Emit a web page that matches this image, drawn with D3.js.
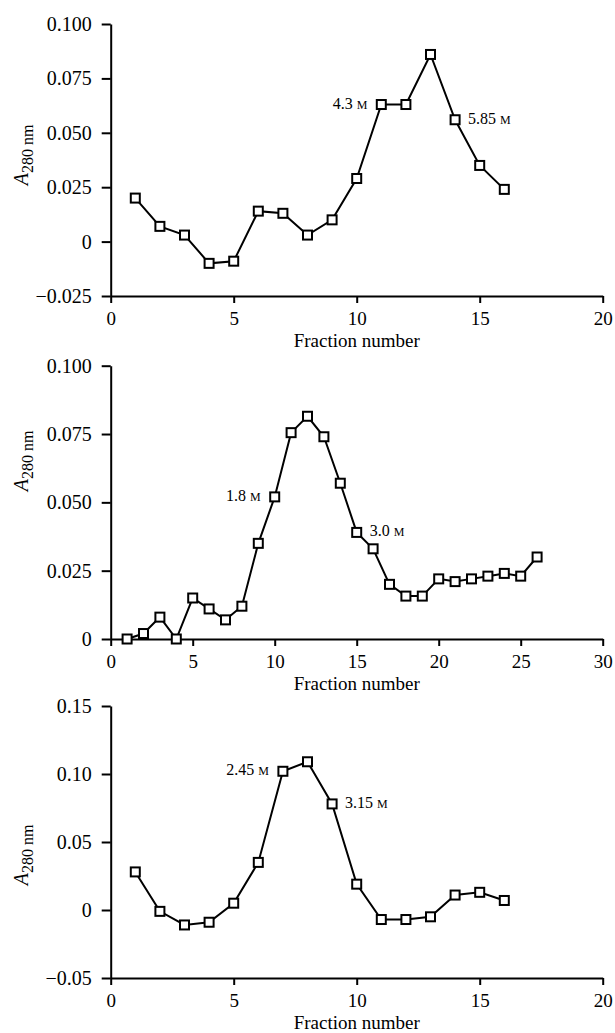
<!DOCTYPE html>
<html>
<meta charset='utf-8'>
<head>
<script src='https://d3js.org/d3.v7.min.js'></script>
<style>
body { margin: 0; background: #fff; }
.axis path, .axis line { stroke: #000; stroke-width: 2; }
.axis text { font-size: 20px; }
.xaxis text { font-size: 19px; }
</style>
</head>
<body>
<div id='chart'></div>
<script>
// panel 1
var frac1 = d3.range(1, 17)
var abs1 = [0.020, 0.007, 0.003, -0.010, -0.009, 0.014, 0.013, 0.003, 0.010, 0.029, 0.063, 0.063, 0.086, 0.056, 0.035, 0.024]
var yTicks1 = [-0.025, 0, 0.025, 0.050, 0.075, 0.100]
var yLabels1 = ['\u22120.025', '0', '0.025', '0.050', '0.075', '0.100']
var notes1 = [{f: 11, text: '4.3 ', side: 'left'}, {f: 14, text: '5.85 ', side: 'right'}]

// panel 2
var frac2 = d3.range(1, 27)
var abs2 = [0, 0.002, 0.008, 0, 0.015, 0.011, 0.007, 0.012, 0.035, 0.052, 0.0755, 0.0815, 0.074, 0.057, 0.039, 0.033,
            0.020, 0.0157, 0.0157, 0.022, 0.021, 0.022, 0.023, 0.024, 0.023, 0.030]
var yTicks2 = [0, 0.025, 0.050, 0.075, 0.100]
var yLabels2 = ['0', '0.025', '0.050', '0.075', '0.100']
var notes2 = [{f: 10, text: '1.8 ', side: 'left'}, {f: 15, text: '3.0 ', side: 'right'}]

// panel 3
var frac3 = d3.range(1, 17)
var abs3 = [0.028, -0.001, -0.011, -0.009, 0.005, 0.035, 0.102, 0.109, 0.078, 0.019, -0.007, -0.007, -0.005, 0.011, 0.013, 0.007]
var yTicks3 = [-0.05, 0, 0.05, 0.10, 0.15]
var yLabels3 = ['\u22120.05', '0', '0.05', '0.10', '0.15']
var notes3 = [{f: 7, text: '2.45 ', side: 'left'}, {f: 9, text: '3.15 ', side: 'right'}]

var xTicks20 = [0, 5, 10, 15, 20]
var xTicks30 = [0, 5, 10, 15, 20, 25, 30]

var width = 615, height = 1033
var left = 110.7, right = 602.7
var serif = '"Liberation Serif", "Times New Roman", Times, serif'

var svg = d3.select('#chart')
    .append('svg')
    .attr('width', width)
    .attr('height', height)

var panels = [
    {frac: frac1, abs: abs1, yTicks: yTicks1, yLabels: yLabels1, notes: notes1, xMax: 20, xTicks: xTicks20,
     yDom: [-0.025, 0.1], top: 24, bottom: 296, labelY: 155},
    {frac: frac2, abs: abs2, yTicks: yTicks2, yLabels: yLabels2, notes: notes2, xMax: 30, xTicks: xTicks30,
     yDom: [0, 0.1], top: 365.7, bottom: 639, labelY: 461},
    {frac: frac3, abs: abs3, yTicks: yTicks3, yLabels: yLabels3, notes: notes3, xMax: 20, xTicks: xTicks20,
     yDom: [-0.05, 0.15], top: 706, bottom: 978, labelY: 855}
]

panels.forEach(function(p) {
    var x = d3.scaleLinear().domain([0, p.xMax]).range([left, right])
    var y = d3.scaleLinear().domain(p.yDom).range([p.bottom, p.top])

    svg.append('g')
        .attr('class', 'axis xaxis')
        .attr('transform', 'translate(0,' + p.bottom + ')')
        .call(d3.axisBottom(x).tickValues(p.xTicks).tickSize(7).tickSizeOuter(0).tickPadding(5))
        .selectAll('text').attr('dy', '0.9em')

    svg.append('g')
        .attr('class', 'axis')
        .attr('transform', 'translate(' + left + ',0)')
        .call(d3.axisLeft(y).tickValues(p.yTicks).tickSize(9).tickSizeOuter(0).tickPadding(10)
            .tickFormat(function(d, i) { return p.yLabels[i] }))

    svg.append('text')
        .attr('x', (left + right) / 2)
        .attr('y', p.bottom + 51)
        .attr('text-anchor', 'middle')
        .style('font-size', '19px')
        .text('Fraction number')

    var lab = svg.append('text')
        .attr('transform', 'translate(28,' + p.labelY + ') rotate(-90)')
        .attr('text-anchor', 'middle')
        .style('font-size', '20px')
    lab.append('tspan').style('font-style', 'italic').text('A')
    lab.append('tspan').attr('dy', 5).style('font-size', '16px').text('280 nm')

    var pts = p.frac.map(function(f, i) { return [f, p.abs[i]] })

    svg.append('path')
        .datum(pts)
        .attr('d', d3.line().x(function(d) { return x(d[0]) }).y(function(d) { return y(d[1]) }))
        .style('fill', 'none')
        .style('stroke', '#000')
        .style('stroke-width', 2)

    svg.selectAll(null)
        .data(pts)
        .enter()
        .append('rect')
        .attr('x', function(d) { return x(d[0]) - 4.5 })
        .attr('y', function(d) { return y(d[1]) - 4.5 })
        .attr('width', 9)
        .attr('height', 9)
        .style('fill', '#fff')
        .style('stroke', '#000')
        .style('stroke-width', 2)

    p.notes.forEach(function(n) {
        var v = p.abs[p.frac.indexOf(n.f)]
        var t = svg.append('text')
            .attr('x', x(n.f) + (n.side == 'left' ? -14 : 13))
            .attr('y', y(v) + 4)
            .attr('text-anchor', n.side == 'left' ? 'end' : 'start')
            .style('font-size', '16px')
        t.append('tspan').text(n.text)
        t.append('tspan').style('font-size', '12px').text('M')
    })
})

svg.selectAll('text').style('font-family', serif).style('fill', '#000')
</script>
</body>
</html>
